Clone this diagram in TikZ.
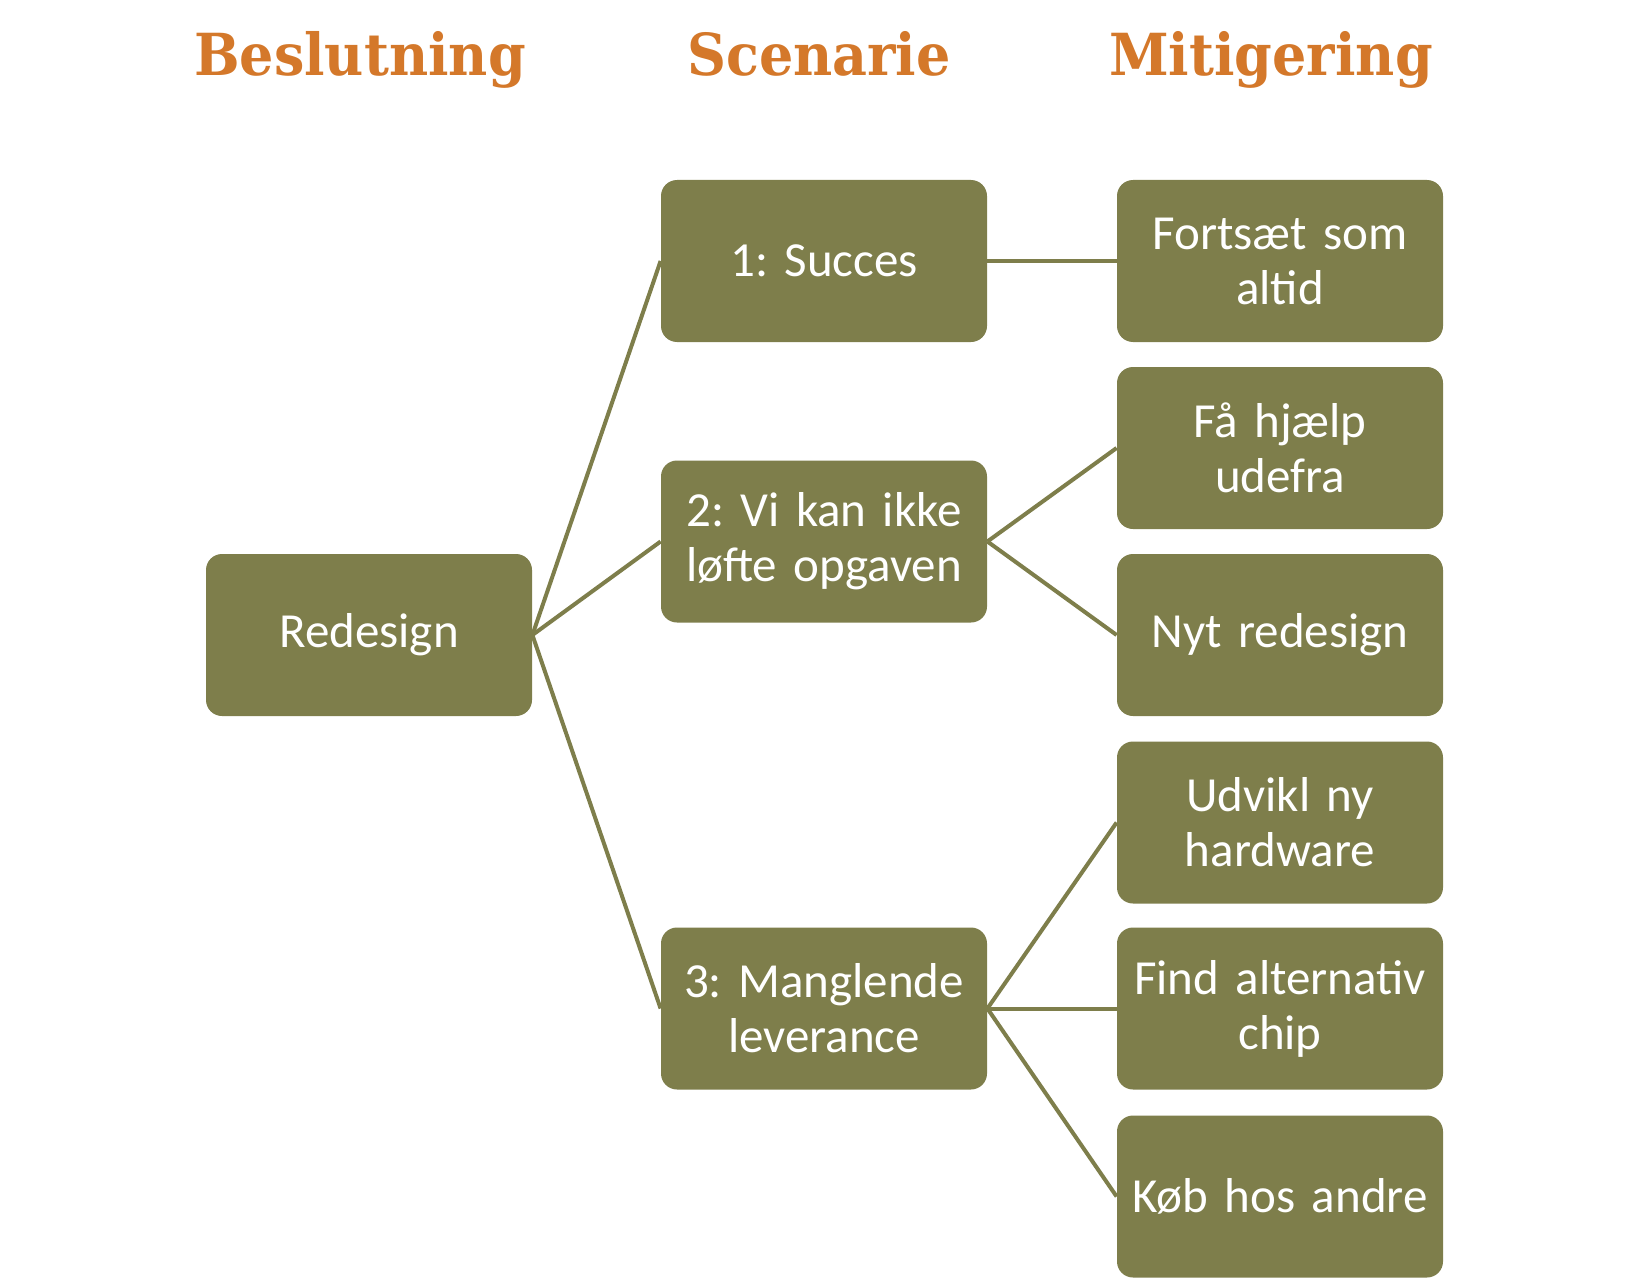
\documentclass[tikz,border=0pt]{standalone}
\usepackage{fontspec}
\setmainfont{Carlito}
\newfontfamily\titlefont[FakeStretch=0.93]{DejaVu Serif}
\definecolor{boksolive}{RGB}{126,126,75}
\definecolor{titelorange}{RGB}{212,120,42}
\tikzset{
  boks/.style={fill=boksolive, rounded corners=8pt, minimum width=163pt, minimum height=81pt,
    inner sep=0pt, text width=158pt, align=center, text=white,
    font=\fontsize{24.5}{27.5}\selectfont\frenchspacing},
  titel/.style={anchor=base, text=titelorange, font=\titlefont\bfseries\fontsize{29}{32}\selectfont},
  link/.style={draw=boksolive, line width=2pt}
}
\begin{document}
\begin{tikzpicture}[x=0.5pt,y=-0.5pt]
\useasboundingbox (0,0) rectangle (1650,1279);

% Titles
\node[titel] (tBeslut) at (360,76) {Beslutning};
\node[titel] (tScen) at (819,76) {Scenarie};
\node[titel] (tMitig) at (1271,76) {Mitigering};

% Decision
\node[boks] (redesign) at (369,635) {Redesign};

% Scenarios
\node[boks] (s1) at (824,261) {1: Succes};
\node[boks] (s2) at (824,541.5) {2: Vi kan ikke\\løfte opgaven};
\node[boks] (s3) at (824,1008.5) {3: Manglende\\leverance};

% Mitigations
\node[boks] (m1) at (1280,261) {Fortsæt som\\altid};
\node[boks] (m2) at (1280,448) {Få hjælp\\udefra};
\node[boks] (m3) at (1280,635) {Nyt redesign};
\node[boks] (m4) at (1280,822.5) {Udvikl ny\\hardware};
\node[boks] (m5) at (1280,1008.5) {Find alternativ\\chip};
\node[boks] (m6) at (1280,1196.5) {Køb hos andre};

% Connectors
\draw[link] (redesign.east) -- (s1.west);
\draw[link] (redesign.east) -- (s2.west);
\draw[link] (redesign.east) -- (s3.west);
\draw[link] (s1.east) -- (m1.west);
\draw[link] (s2.east) -- (m2.west);
\draw[link] (s2.east) -- (m3.west);
\draw[link] (s3.east) -- (m4.west);
\draw[link] (s3.east) -- (m5.west);
\draw[link] (s3.east) -- (m6.west);

\end{tikzpicture}
\end{document}
